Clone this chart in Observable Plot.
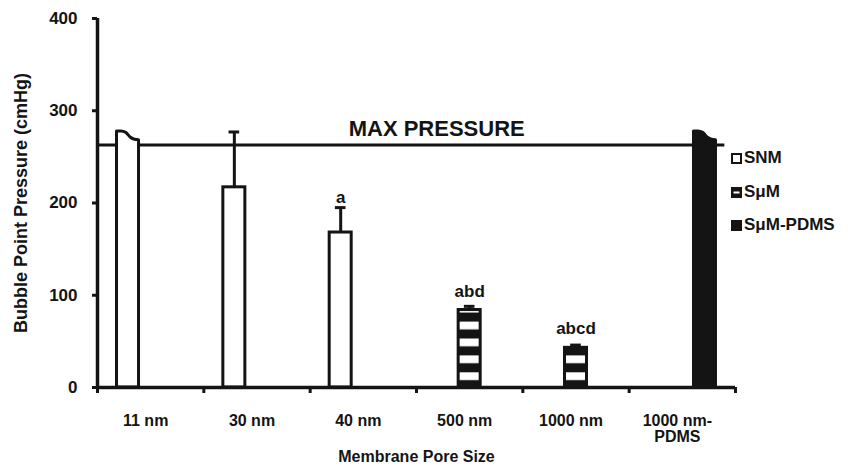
<!DOCTYPE html>
<html><head><meta charset="utf-8">
<script src="https://cdn.jsdelivr.net/npm/d3@7"></script>
<script src="https://cdn.jsdelivr.net/npm/@observablehq/plot@0.6"></script>
<style>
body{margin:0;background:#fff;}
#wrap{position:relative;width:854px;height:469px;font-family:"Liberation Sans",Arial,sans-serif;font-weight:bold;color:#141414;}
.leg{position:absolute;left:731px;height:18px;line-height:18px;display:flex;align-items:center;font-size:17px;white-space:nowrap;}
.leg svg{margin-right:2px;}
</style></head><body><div id="wrap"></div>
<script>
// ---- data ----
const categories = ["11 nm", "30 nm", "40 nm", "500 nm", "1000 nm", "1000 nm-\nPDMS"];
const seriesNames = ["SNM", "SμM", "SμM-PDMS"];
const seriesOf = [0, 0, 0, 1, 1, 2];
const values = [268, 217, 168, 84, 43, 268];
const errors = [0, 60, 27, 4, 3, 0];
const overflow = [true, false, false, false, false, true];
const capProfile = [277.5, 277.5, 276, 271, 268.5, 268];
const sigLabels = ["", "", "a", "abd", "abcd", ""];
const sigLabelY = [0, 0, 200.5, 97.6, 58.5, 0];
const yTicks = [0, 100, 200, 300, 400];
const maxPressure = 263;
const maxLabel = "MAX PRESSURE";

// ---- layout / style ----
const ink = "#141414";
const seriesFill = ["#ffffff", "url(#stripes)", ink];
const seriesOffset = [-0.213, 0, 0.213];
const halfW = 0.1035;
const capHalf = 0.05;
const capFrac = [0, 0.2, 0.42, 0.62, 0.82, 1];

const bars = categories.map((c, i) => ({
  i, cat: c, s: seriesOf[i], x: i + seriesOffset[seriesOf[i]],
  v: values[i], e: errors[i], lab: sigLabels[i], labY: sigLabelY[i],
  over: overflow[i], fill: seriesFill[seriesOf[i]]
}));
const rectBars = bars.filter(d => !d.over);
const errBars = bars.filter(d => d.e > 0);
const labBars = bars.filter(d => d.lab);
const overPts = bars.filter(d => d.over).flatMap(d =>
  capFrac.map((f, k) => ({bar: d.i, fill: d.fill, x: d.x - halfW + 2 * halfW * f, y: capProfile[k]})));

const xLo = -0.5, xHi = categories.length - 0.5;
const boundaries = d3.range(categories.length + 1).map(k => k - 0.5);

const svg = Plot.plot({
  width: 854, height: 469,
  marginLeft: 97, marginRight: 119, marginTop: 18, marginBottom: 82,
  style: {fontFamily: "'Liberation Sans', Arial, sans-serif", fontSize: "16px", fontWeight: "bold", color: ink, background: "#fff"},
  x: {domain: [xLo, xHi]},
  y: {domain: [0, 400]},
  color: {type: "identity"},
  marks: [
    Plot.ruleY([maxPressure], {x1: xLo, x2: 5.4, stroke: ink, strokeWidth: 3}),
    Plot.text([maxLabel], {x: 2.69, y: maxPressure, dy: -9, lineAnchor: "bottom", fontSize: 22, fill: ink}),
    Plot.rect(rectBars, {x1: d => d.x - halfW, x2: d => d.x + halfW, y1: 0, y2: "v", fill: "fill", stroke: ink, strokeWidth: 3}),
    Plot.areaY(overPts, {x: "x", y1: 0, y2: "y", z: "bar", fill: "fill", stroke: ink, strokeWidth: 3, curve: "monotone-x"}),
    Plot.ruleX(errBars, {x: "x", y1: "v", y2: d => d.v + d.e, stroke: ink, strokeWidth: 3}),
    Plot.ruleY(errBars, {y: d => d.v + d.e, x1: d => d.x - capHalf, x2: d => d.x + capHalf, stroke: ink, strokeWidth: 3}),
    Plot.text(labBars, {x: "x", y: "labY", text: "lab", lineAnchor: "bottom", fontSize: 17, fill: ink}),
    Plot.axisY({ticks: yTicks, tickSize: 5, tickPadding: 15, strokeWidth: 3, label: null, fontSize: 17}),
    Plot.axisX({ticks: boundaries, tickSize: 6, strokeWidth: 3, tickFormat: () => "", label: null}),
    Plot.axisX({ticks: d3.range(categories.length), tickSize: 0, tickPadding: 27, tickFormat: i => categories[i], label: null, fontSize: 16, dx: -5}),
    Plot.ruleX([xLo], {stroke: ink, strokeWidth: 3.5}),
    Plot.ruleY([0], {stroke: ink, strokeWidth: 3.5}),
    Plot.text(["Bubble Point Pressure (cmHg)"], {frameAnchor: "left", dx: -76, rotate: -90, textAnchor: "middle", lineAnchor: "middle", fontSize: 18, fill: ink}),
    Plot.text(["Membrane Pore Size"], {frameAnchor: "bottom", dy: 69, lineAnchor: "middle", fontSize: 16, fill: ink})
  ]
});

// stripe pattern for the SμM bars, aligned to the baseline
const y0 = svg.scale("y").apply(0);
const period = 16.9;
const defs = d3.select(svg).insert("defs", ":first-child");
const pat = defs.append("pattern").attr("id", "stripes").attr("patternUnits", "userSpaceOnUse")
  .attr("width", 10).attr("height", period).attr("y", y0 - 14.7);
pat.append("rect").attr("width", 10).attr("height", period).attr("fill", ink);
pat.append("rect").attr("width", 10).attr("height", 7.8).attr("fill", "#fff");

const wrap = document.getElementById("wrap");
wrap.appendChild(svg);

// legend
const legendTop = [158, 192, 225];
const swatch = [
  `<svg width="11" height="11"><rect x="1" y="1" width="9" height="9" fill="#fff" stroke="${ink}" stroke-width="2"/></svg>`,
  `<svg width="11" height="11"><rect x="0" y="0" width="11" height="11" fill="${ink}"/><rect x="2.5" y="4.5" width="6" height="2" fill="#fff"/></svg>`,
  `<svg width="11" height="11"><rect x="0" y="0" width="11" height="11" fill="${ink}"/></svg>`
];
seriesNames.forEach((name, k) => {
  const d = document.createElement("div");
  d.className = "leg";
  d.style.top = (legendTop[k] - 9) + "px";
  d.innerHTML = swatch[k] + `<span>${name}</span>`;
  wrap.appendChild(d);
});
</script>
</body></html>
